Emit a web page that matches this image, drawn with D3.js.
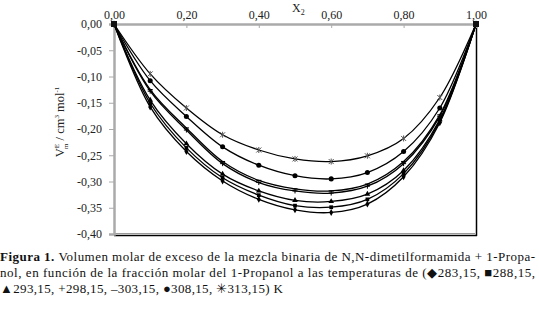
<!DOCTYPE html>
<html><head><meta charset="utf-8">
<script src="https://cdn.jsdelivr.net/npm/d3@7"></script>
<style>body{margin:0;background:#fff}svg{display:block}
svg text{font-family:"Liberation Serif","Times New Roman",Times,serif}</style>
</head><body>
<svg id="c" width="539" height="311"></svg>
<script>
const xValues = [0, 0.1, 0.2, 0.3, 0.4, 0.5, 0.6, 0.7, 0.8, 0.9, 1.0];
const seriesNames = ["283,15", "288,15", "293,15", "298,15", "303,15", "308,15", "313,15"];
const seriesSymbols = ["diamond", "square", "triangle", "plus", "dash", "circle", "asterisk"];
const v283 = [0, -0.158, -0.243, -0.299, -0.334, -0.354, -0.359, -0.343, -0.291, -0.188, 0];
const v288 = [0, -0.151, -0.236, -0.293, -0.326, -0.346, -0.349, -0.334, -0.285, -0.185, 0];
const v293 = [0, -0.145, -0.228, -0.286, -0.318, -0.336, -0.338, -0.324, -0.279, -0.182, 0];
const v298 = [0, -0.128, -0.202, -0.266, -0.302, -0.318, -0.322, -0.309, -0.266, -0.176, 0];
const v303 = [0, -0.125, -0.198, -0.262, -0.298, -0.314, -0.318, -0.305, -0.262, -0.173, 0];
const v308 = [0, -0.108, -0.176, -0.234, -0.269, -0.289, -0.295, -0.283, -0.243, -0.160, 0];
const v313 = [0, -0.095, -0.160, -0.211, -0.240, -0.257, -0.262, -0.251, -0.218, -0.140, 0];
const seriesValues = [v283, v288, v293, v298, v303, v308, v313];
const xTicks = [0, 0.2, 0.4, 0.6, 0.8, 1.0];
const yTicks = [0, -0.05, -0.10, -0.15, -0.20, -0.25, -0.30, -0.35, -0.40];
const captionLines = [
  "Volumen molar de exceso de la mezcla binaria de N,N-dimetilformamida  + 1-Propa-",
  "nol, en  función de la fracción molar del 1-Propanol a  las temperaturas de (◆283,15, ■288,15,",
  "▲293,15, +298,15, –303,15, ●308,15, ✳313,15) K"
];

const svg = d3.select("#c");
const L = 114, R = 476, T = 24, B = 234;
const x = d3.scaleLinear().domain([0, 1]).range([L, R]);
const y = d3.scaleLinear().domain([0, -0.4]).range([T, B]);
const fmt = d => d3.format(".2f")(d).replace(".", ",").replace("−", "-");

// plot frame (right/bottom dark border with grey inner line)
svg.append("line").attr("x1", L).attr("x2", R + 1).attr("y1", B + 1.5).attr("y2", B + 1.5).attr("stroke", "#000").attr("stroke-width", 1.5);
svg.append("line").attr("x1", L).attr("x2", R - 1).attr("y1", B - 0.5).attr("y2", B - 0.5).attr("stroke", "#999").attr("stroke-width", 1);
svg.append("line").attr("x1", R + 0.5).attr("x2", R + 0.5).attr("y1", T).attr("y2", B + 2).attr("stroke", "#000").attr("stroke-width", 1.5);

// top x axis
const xa = svg.append("g").attr("transform", `translate(0,${T})`)
  .call(d3.axisTop(x).tickValues(xTicks).tickSize(-4).tickFormat(fmt));
xa.attr("font-family", null).attr("font-size", null);
xa.select(".domain").attr("stroke", "#aaa").attr("stroke-width", 2.5);
xa.selectAll(".tick line").attr("stroke", "#aaa");
xa.selectAll("text").attr("font-size", 12).attr("fill", "#222").attr("dy", "-2");

// left y axis
const ya = svg.append("g").attr("transform", `translate(${L},0)`)
  .call(d3.axisLeft(y).tickValues(yTicks).tickSize(5).tickFormat(fmt));
ya.attr("font-family", null).attr("font-size", null);
ya.select(".domain").attr("stroke", "#aaa").attr("stroke-width", 2.5);
ya.selectAll(".tick line").attr("stroke", "#aaa");
ya.selectAll("text").attr("font-size", 12).attr("fill", "#222").attr("x", -12);

// x2 label
const xl = svg.append("text").attr("x", 292).attr("y", 12).attr("font-size", 12).attr("fill", "#222");
xl.append("tspan").text("X");
xl.append("tspan").attr("font-size", 8).attr("dy", 3).text("2");

// y label
const yl = svg.append("text").attr("transform", "translate(64,122) rotate(-90)").attr("text-anchor", "middle")
  .attr("font-size", 12.5).attr("fill", "#222");
yl.append("tspan").text("V");
yl.append("tspan").attr("font-size", 7).attr("dy", -5).text("E");
yl.append("tspan").attr("font-size", 7).attr("dx", -5).attr("dy", 9).text("m");
yl.append("tspan").attr("dy", -4).text(" / cm");
yl.append("tspan").attr("font-size", 7).attr("dy", -5).text("3");
yl.append("tspan").attr("dy", 5).text(" mol");
yl.append("tspan").attr("font-size", 7).attr("dy", -5).text("-1");

// lines
const line = d3.line().x((d, i) => x(xValues[i])).y(d => y(d)).curve(d3.curveCatmullRom.alpha(0.5));
const g = svg.append("g");
seriesValues.forEach((vals, si) => {
  g.append("path").attr("d", line(vals)).attr("fill", "none").attr("stroke", "#000").attr("stroke-width", 1.3);
});
// markers
const symMap = {
  diamond: d3.symbolDiamond, square: d3.symbolSquare, triangle: d3.symbolTriangle,
  circle: d3.symbolCircle
};
seriesValues.forEach((vals, si) => {
  const s = seriesSymbols[si];
  vals.forEach((v, i) => {
    const px = x(xValues[i]), py = y(v);
    const mg = g.append("g").attr("transform", `translate(${px},${py})`);
    if (symMap[s]) {
      mg.append("path").attr("d", d3.symbol().type(symMap[s]).size(s === "circle" ? 20 : 14)()).attr("fill", "#000");
    } else if (s === "plus") {
      mg.append("path").attr("d", "M-2.5,0H2.5M0,-2.5V2.5").attr("stroke", "#000").attr("stroke-width", 1);
    } else if (s === "dash") {
      mg.append("path").attr("d", "M-2.5,0H2.5").attr("stroke", "#000").attr("stroke-width", 1.2);
    } else if (s === "asterisk") {
      mg.append("path").attr("d", "M-2.5,-2.5L2.5,2.5M-2.5,2.5L2.5,-2.5M0,-3V3").attr("stroke", "#555").attr("stroke-width", 1);
    }
  });
});
// endpoint squares
[0, 1].forEach(v => {
  svg.append("rect").attr("x", x(v) - 3).attr("y", y(0) - 3).attr("width", 6).attr("height", 6).attr("fill", "#111");
});

// caption
const cap = svg.append("g").attr("font-size", 13).attr("fill", "#111");
const t1 = cap.append("text").attr("x", 0).attr("y", 261).attr("textLength", 535).attr("lengthAdjust", "spacing");
t1.append("tspan").attr("font-weight", "bold").text("Figura 1. ");
t1.append("tspan").text(captionLines[0]);
cap.append("text").attr("x", 0).attr("y", 277).attr("textLength", 535).attr("lengthAdjust", "spacing").text(captionLines[1]);
cap.append("text").attr("x", 0).attr("y", 293).attr("textLength", 283).attr("lengthAdjust", "spacing").text(captionLines[2]);
</script>
</body></html>
